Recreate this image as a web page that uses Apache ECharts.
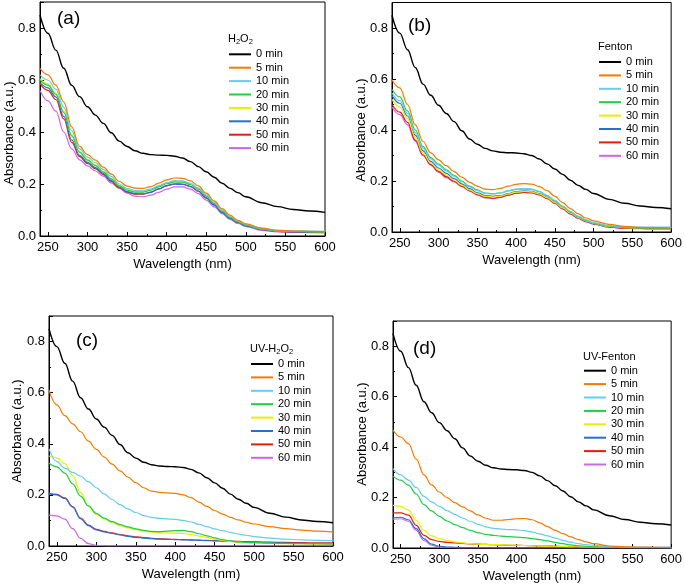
<!DOCTYPE html>
<html><head><meta charset="utf-8">
<script src="https://cdn.jsdelivr.net/npm/echarts@6/dist/echarts.min.js"></script>
<style>html,body{margin:0;padding:0;background:#fff}#c{width:685px;height:588px}</style>
</head><body><div id="c"></div>
<script>
// wavelength sample points (nm)
const wl = [240,250,260,270,280,290,300,310,320,330,340,350,360,370,380,390,400,410,420,430,440,450,460,470,480,490,500,520,540,560,580,600];
const seriesNames = ['0 min','5 min','10 min','20 min','30 min','40 min','50 min','60 min'];
const colors = ['#000000','#f07c00','#66ccee','#22cc44','#e8f000','#2a6fcf','#e0200c','#cc66e8'];
const xMajorTicks = [250,300,350,400,450,500,550,600];
const xMinorTicks = [275,325,375,425,475,525,575];
const panelLabels = ['(a)','(b)','(c)','(d)'];

// 0 min (initial) spectrum, shared by all panels
const t0 = [0.85,0.78,0.715,0.645,0.58,0.536,0.497,0.465,0.433,0.397,0.365,0.344,0.328,0.318,0.313,0.311,0.31,0.307,0.30,0.286,0.267,0.247,0.226,0.203,0.183,0.167,0.151,0.128,0.113,0.102,0.096,0.091];

// (a) H2O2
const a5  = [0.645,0.62,0.58,0.515,0.42,0.345,0.313,0.292,0.265,0.238,0.21,0.192,0.184,0.183,0.19,0.203,0.216,0.223,0.222,0.212,0.193,0.165,0.135,0.105,0.08,0.06,0.047,0.03,0.022,0.019,0.018,0.017];
const a10 = [0.62,0.60,0.565,0.495,0.405,0.335,0.303,0.282,0.256,0.229,0.201,0.183,0.175,0.174,0.181,0.194,0.206,0.213,0.212,0.203,0.185,0.158,0.13,0.10,0.076,0.058,0.045,0.029,0.022,0.02,0.019,0.018];
const a20 = [0.60,0.58,0.545,0.475,0.385,0.322,0.292,0.271,0.246,0.219,0.193,0.176,0.169,0.169,0.176,0.189,0.201,0.208,0.207,0.198,0.18,0.153,0.125,0.096,0.072,0.055,0.042,0.027,0.02,0.018,0.017,0.016];
const a30 = [0.605,0.585,0.55,0.48,0.39,0.325,0.295,0.274,0.249,0.222,0.195,0.178,0.171,0.171,0.178,0.191,0.204,0.211,0.21,0.20,0.182,0.155,0.127,0.098,0.074,0.056,0.043,0.027,0.02,0.018,0.017,0.016];
const a40 = [0.59,0.57,0.535,0.46,0.37,0.31,0.283,0.263,0.24,0.213,0.188,0.171,0.163,0.162,0.169,0.181,0.193,0.199,0.198,0.19,0.172,0.146,0.119,0.091,0.068,0.051,0.039,0.024,0.018,0.016,0.015,0.014];
const a50 = [0.585,0.56,0.525,0.45,0.36,0.305,0.279,0.259,0.236,0.21,0.186,0.169,0.161,0.161,0.168,0.181,0.194,0.201,0.20,0.191,0.173,0.147,0.12,0.092,0.069,0.052,0.04,0.025,0.018,0.016,0.015,0.014];
const a60 = [0.56,0.52,0.48,0.40,0.335,0.293,0.27,0.25,0.23,0.204,0.183,0.165,0.153,0.151,0.157,0.168,0.18,0.189,0.189,0.18,0.163,0.138,0.112,0.086,0.064,0.048,0.036,0.022,0.016,0.014,0.013,0.012];

// (b) Fenton
const b5  = [0.597,0.565,0.50,0.42,0.355,0.31,0.283,0.26,0.237,0.215,0.195,0.18,0.168,0.166,0.171,0.18,0.187,0.19,0.188,0.178,0.162,0.14,0.115,0.092,0.071,0.055,0.044,0.03,0.022,0.018,0.017,0.016];
const b10 = [0.545,0.515,0.465,0.39,0.328,0.287,0.262,0.24,0.218,0.197,0.177,0.162,0.151,0.149,0.154,0.162,0.168,0.17,0.168,0.159,0.144,0.124,0.102,0.081,0.062,0.048,0.037,0.025,0.02,0.019,0.019,0.019];
const b20 = [0.56,0.53,0.475,0.40,0.335,0.292,0.266,0.244,0.222,0.20,0.18,0.165,0.153,0.15,0.153,0.161,0.167,0.169,0.167,0.158,0.143,0.122,0.10,0.079,0.06,0.046,0.035,0.023,0.018,0.016,0.016,0.016];
const b30 = [0.52,0.49,0.445,0.372,0.31,0.27,0.245,0.224,0.204,0.184,0.165,0.15,0.14,0.137,0.141,0.149,0.156,0.159,0.157,0.149,0.135,0.116,0.095,0.075,0.057,0.044,0.034,0.022,0.017,0.016,0.016,0.016];
const b40 = [0.535,0.505,0.455,0.38,0.318,0.277,0.251,0.23,0.209,0.189,0.17,0.154,0.143,0.14,0.143,0.151,0.158,0.161,0.159,0.151,0.137,0.117,0.096,0.076,0.058,0.044,0.034,0.022,0.017,0.016,0.016,0.016];
const b50 = [0.50,0.47,0.43,0.36,0.302,0.264,0.238,0.217,0.199,0.18,0.162,0.147,0.136,0.133,0.137,0.145,0.152,0.155,0.154,0.146,0.132,0.113,0.092,0.072,0.055,0.042,0.032,0.02,0.015,0.014,0.013,0.013];
const b60 = [0.49,0.46,0.42,0.355,0.30,0.262,0.234,0.213,0.196,0.178,0.16,0.145,0.134,0.131,0.136,0.145,0.152,0.155,0.153,0.145,0.131,0.112,0.09,0.07,0.053,0.04,0.031,0.019,0.014,0.013,0.012,0.012];

// (c) UV-H2O2
const c5  = [0.611,0.552,0.51,0.478,0.447,0.41,0.378,0.348,0.32,0.294,0.27,0.248,0.228,0.215,0.21,0.208,0.206,0.20,0.189,0.172,0.155,0.139,0.125,0.112,0.102,0.093,0.086,0.076,0.068,0.062,0.058,0.055];
const c10 = [0.38,0.33,0.305,0.288,0.274,0.252,0.228,0.204,0.182,0.162,0.145,0.131,0.119,0.112,0.108,0.106,0.104,0.10,0.094,0.085,0.076,0.067,0.06,0.053,0.047,0.042,0.037,0.031,0.027,0.024,0.022,0.021];
const c20 = [0.324,0.31,0.285,0.243,0.195,0.157,0.128,0.109,0.095,0.084,0.075,0.067,0.061,0.057,0.056,0.058,0.06,0.061,0.056,0.048,0.04,0.032,0.025,0.02,0.016,0.014,0.013,0.011,0.01,0.009,0.009,0.008];
const c30 = [0.352,0.345,0.322,0.275,0.21,0.155,0.124,0.106,0.092,0.08,0.071,0.064,0.058,0.054,0.052,0.051,0.05,0.049,0.045,0.039,0.033,0.027,0.022,0.018,0.015,0.013,0.012,0.01,0.009,0.009,0.008,0.008];
const c40 = [0.204,0.20,0.186,0.152,0.107,0.08,0.063,0.055,0.049,0.043,0.038,0.034,0.031,0.029,0.027,0.026,0.025,0.024,0.023,0.022,0.021,0.02,0.019,0.018,0.017,0.016,0.015,0.013,0.011,0.01,0.009,0.008];
const c50 = [0.206,0.202,0.188,0.154,0.109,0.082,0.065,0.057,0.051,0.045,0.04,0.036,0.033,0.03,0.028,0.027,0.026,0.025,0.024,0.023,0.022,0.021,0.02,0.019,0.018,0.017,0.016,0.015,0.014,0.013,0.012,0.012];
const c60 = [0.121,0.118,0.105,0.068,0.03,0.009,0.003,0.001,0,0,0,0,0,0,0,0,0,0,0,0,0,0,0,0,0,0,0,0,0,0,0,0];

// (d) UV-Fenton
const d5  = [0.467,0.44,0.414,0.352,0.29,0.25,0.222,0.20,0.18,0.163,0.147,0.131,0.118,0.11,0.11,0.113,0.116,0.117,0.112,0.10,0.085,0.07,0.057,0.044,0.033,0.024,0.017,0.008,0.005,0.003,0.002,0.001];
const d10 = [0.315,0.29,0.269,0.24,0.205,0.183,0.165,0.148,0.133,0.119,0.106,0.094,0.084,0.078,0.075,0.073,0.072,0.069,0.063,0.056,0.048,0.039,0.03,0.023,0.017,0.013,0.011,0.006,0.004,0.003,0.003,0.003];
const d20 = [0.285,0.269,0.249,0.214,0.172,0.147,0.125,0.107,0.093,0.081,0.07,0.061,0.054,0.05,0.047,0.045,0.043,0.041,0.037,0.033,0.028,0.022,0.017,0.012,0.009,0.007,0.005,0.003,0.002,0.001,0.001,0.001];
const d30 = [0.169,0.165,0.15,0.11,0.07,0.048,0.037,0.03,0.024,0.02,0.017,0.015,0.014,0.013,0.013,0.012,0.011,0.01,0.009,0.008,0.007,0.007,0.006,0.005,0.005,0.004,0.004,0.003,0.003,0.002,0.002,0.002];
const d40 = [0.12,0.122,0.112,0.077,0.037,0.015,0.007,0.004,0.003,0.002,0.002,0.002,0.002,0.002,0.002,0.002,0.002,0.002,0.002,0.002,0.002,0.002,0.002,0.002,0.002,0.002,0.002,0.002,0.002,0.002,0.002,0.002];
const d50 = [0.139,0.139,0.13,0.09,0.05,0.033,0.026,0.022,0.02,0.018,0.016,0.015,0.014,0.013,0.012,0.011,0.011,0.01,0.009,0.008,0.008,0.007,0.006,0.005,0.005,0.004,0.004,0.003,0.003,0.003,0.003,0.003];
const d60 = [0.114,0.116,0.106,0.07,0.03,0.011,0.004,0.002,0.001,0,0,0,0,0,0,0,0,0,0,0,0,0,0,0,0,0,0,0,0,0,0,0];

const panels = [
  [t0,a5,a10,a20,a30,a40,a50,a60],
  [t0,b5,b10,b20,b30,b40,b50,b60],
  [t0,c5,c10,c20,c30,c40,c50,c60],
  [t0,d5,d10,d20,d30,d40,d50,d60]
];

// layout (pixels)
const gridBoxes = [
  {left:40, top:2, width:285, height:234},
  {left:392, top:2.5, width:280, height:229.5},
  {left:49, top:316, width:284, height:230},
  {left:393, top:321, width:280, height:227}
];
const legendPos = [{left:228,top:48.3},{left:598,top:56},{left:250,top:358},{left:583,top:364.7}];
const legendTitles = [
  {x:228,y:40,text:'{n|H}{s|2}{n|O}{s|2}'},
  {x:598,y:48,text:'{n|Fenton}'},
  {x:250,y:350,text:'{n|UV-H}{s|2}{n|O}{s|2}'},
  {x:583,y:358,text:'{n|UV-Fenton}'}
];
const labelPos = [{x:57,y:20},{x:408,y:27},{x:76,y:342},{x:413,y:350}];
const yNamePos = [{x:9,y:133},{x:361,y:130},{x:17.5,y:431},{x:362.5,y:434}];

const FONT = '"Liberation Sans", Arial, sans-serif';
const grid=[], xAxis=[], yAxis=[], series=[], legend=[], graphic=[];

gridBoxes.forEach((g,i)=>{
  grid.push(Object.assign({show:true, borderColor:'#000', borderWidth:1, backgroundColor:'transparent'}, g));
  xAxis.push({
    type:'value', gridIndex:i, min:240, max:600,
    axisLine:{show:true,lineStyle:{color:'#000',width:1}},
    axisTick:{show:true,inside:true,length:4,customValues:xMajorTicks,lineStyle:{color:'#000'}},
    axisLabel:{customValues:xMajorTicks,fontSize:13,color:'#000',margin:5,fontFamily:FONT},
    splitLine:{show:false},
    name:'Wavelength (nm)', nameLocation:'middle', nameGap:22,
    nameTextStyle:{fontSize:13,color:'#000',fontFamily:FONT}
  });
  xAxis.push({
    type:'value', gridIndex:i, min:240, max:600, position:'bottom',
    axisLine:{show:false},
    axisTick:{show:true,inside:true,length:2,customValues:xMinorTicks,lineStyle:{color:'#000'}},
    axisLabel:{show:false}, splitLine:{show:false}
  });
  yAxis.push({
    type:'value', gridIndex:i, min:0, max:0.9, interval:0.2,
    axisLine:{show:true,lineStyle:{color:'#000',width:1}},
    axisTick:{show:true,inside:true,length:4,lineStyle:{color:'#000'}},
    minorTick:{show:true,splitNumber:2,length:2,lineStyle:{color:'#000'}},
    axisLabel:{fontSize:13,color:'#000',margin:4,fontFamily:FONT,showMaxLabel:false,formatter:v=>v.toFixed(1)},
    splitLine:{show:false}, minorSplitLine:{show:false}
  });
  panels[i].forEach((vals,k)=>{
    series.push({
      type:'line', name:seriesNames[k], xAxisIndex:i*2, yAxisIndex:i,
      data: wl.map((w,j)=>[w, vals[j]]),
      showSymbol:false, symbol:'none', smooth:0.4, smoothMonotone:'x',
      lineStyle:{color:colors[k], width:k===0?1.4:1.2},
      itemStyle:{color:colors[k]}, z: 10-k, silent:true
    });
  });
  legend.push({
    orient:'vertical', left:legendPos[i].left, top:legendPos[i].top,
    data:seriesNames, itemWidth:22, itemHeight:12, itemGap:1.4, padding:0,
    itemStyle:{opacity:0}, lineStyle:{width:2},
    textStyle:{fontSize:11,color:'#000',fontFamily:FONT,lineHeight:12},
    selectedMode:false
  });
  graphic.push({
    type:'text', left:legendTitles[i].x, top:legendTitles[i].y-7,
    style:{text:legendTitles[i].text, rich:{
      n:{fontSize:11,fontFamily:FONT,fill:'#000',color:'#000'},
      s:{fontSize:7.5,fontFamily:FONT,fill:'#000',color:'#000',padding:[6,0,0,0]}
    }}
  });
  graphic.push({
    type:'text', left:labelPos[i].x, top:labelPos[i].y-11,
    style:{text:panelLabels[i], fontSize:19, fontFamily:FONT, fill:'#000'}
  });
  graphic.push({
    type:'text', x:yNamePos[i].x, y:yNamePos[i].y, rotation:Math.PI/2,
    style:{text:'Absorbance (a.u.)', fontSize:13, fontFamily:FONT, fill:'#000', align:'center', verticalAlign:'middle'}
  });
});

const chart = echarts.init(document.getElementById('c'), null, {renderer:'canvas'});
chart.setOption({animation:false, backgroundColor:'#fff', grid, xAxis, yAxis, series, legend, graphic});
</script></body></html>
